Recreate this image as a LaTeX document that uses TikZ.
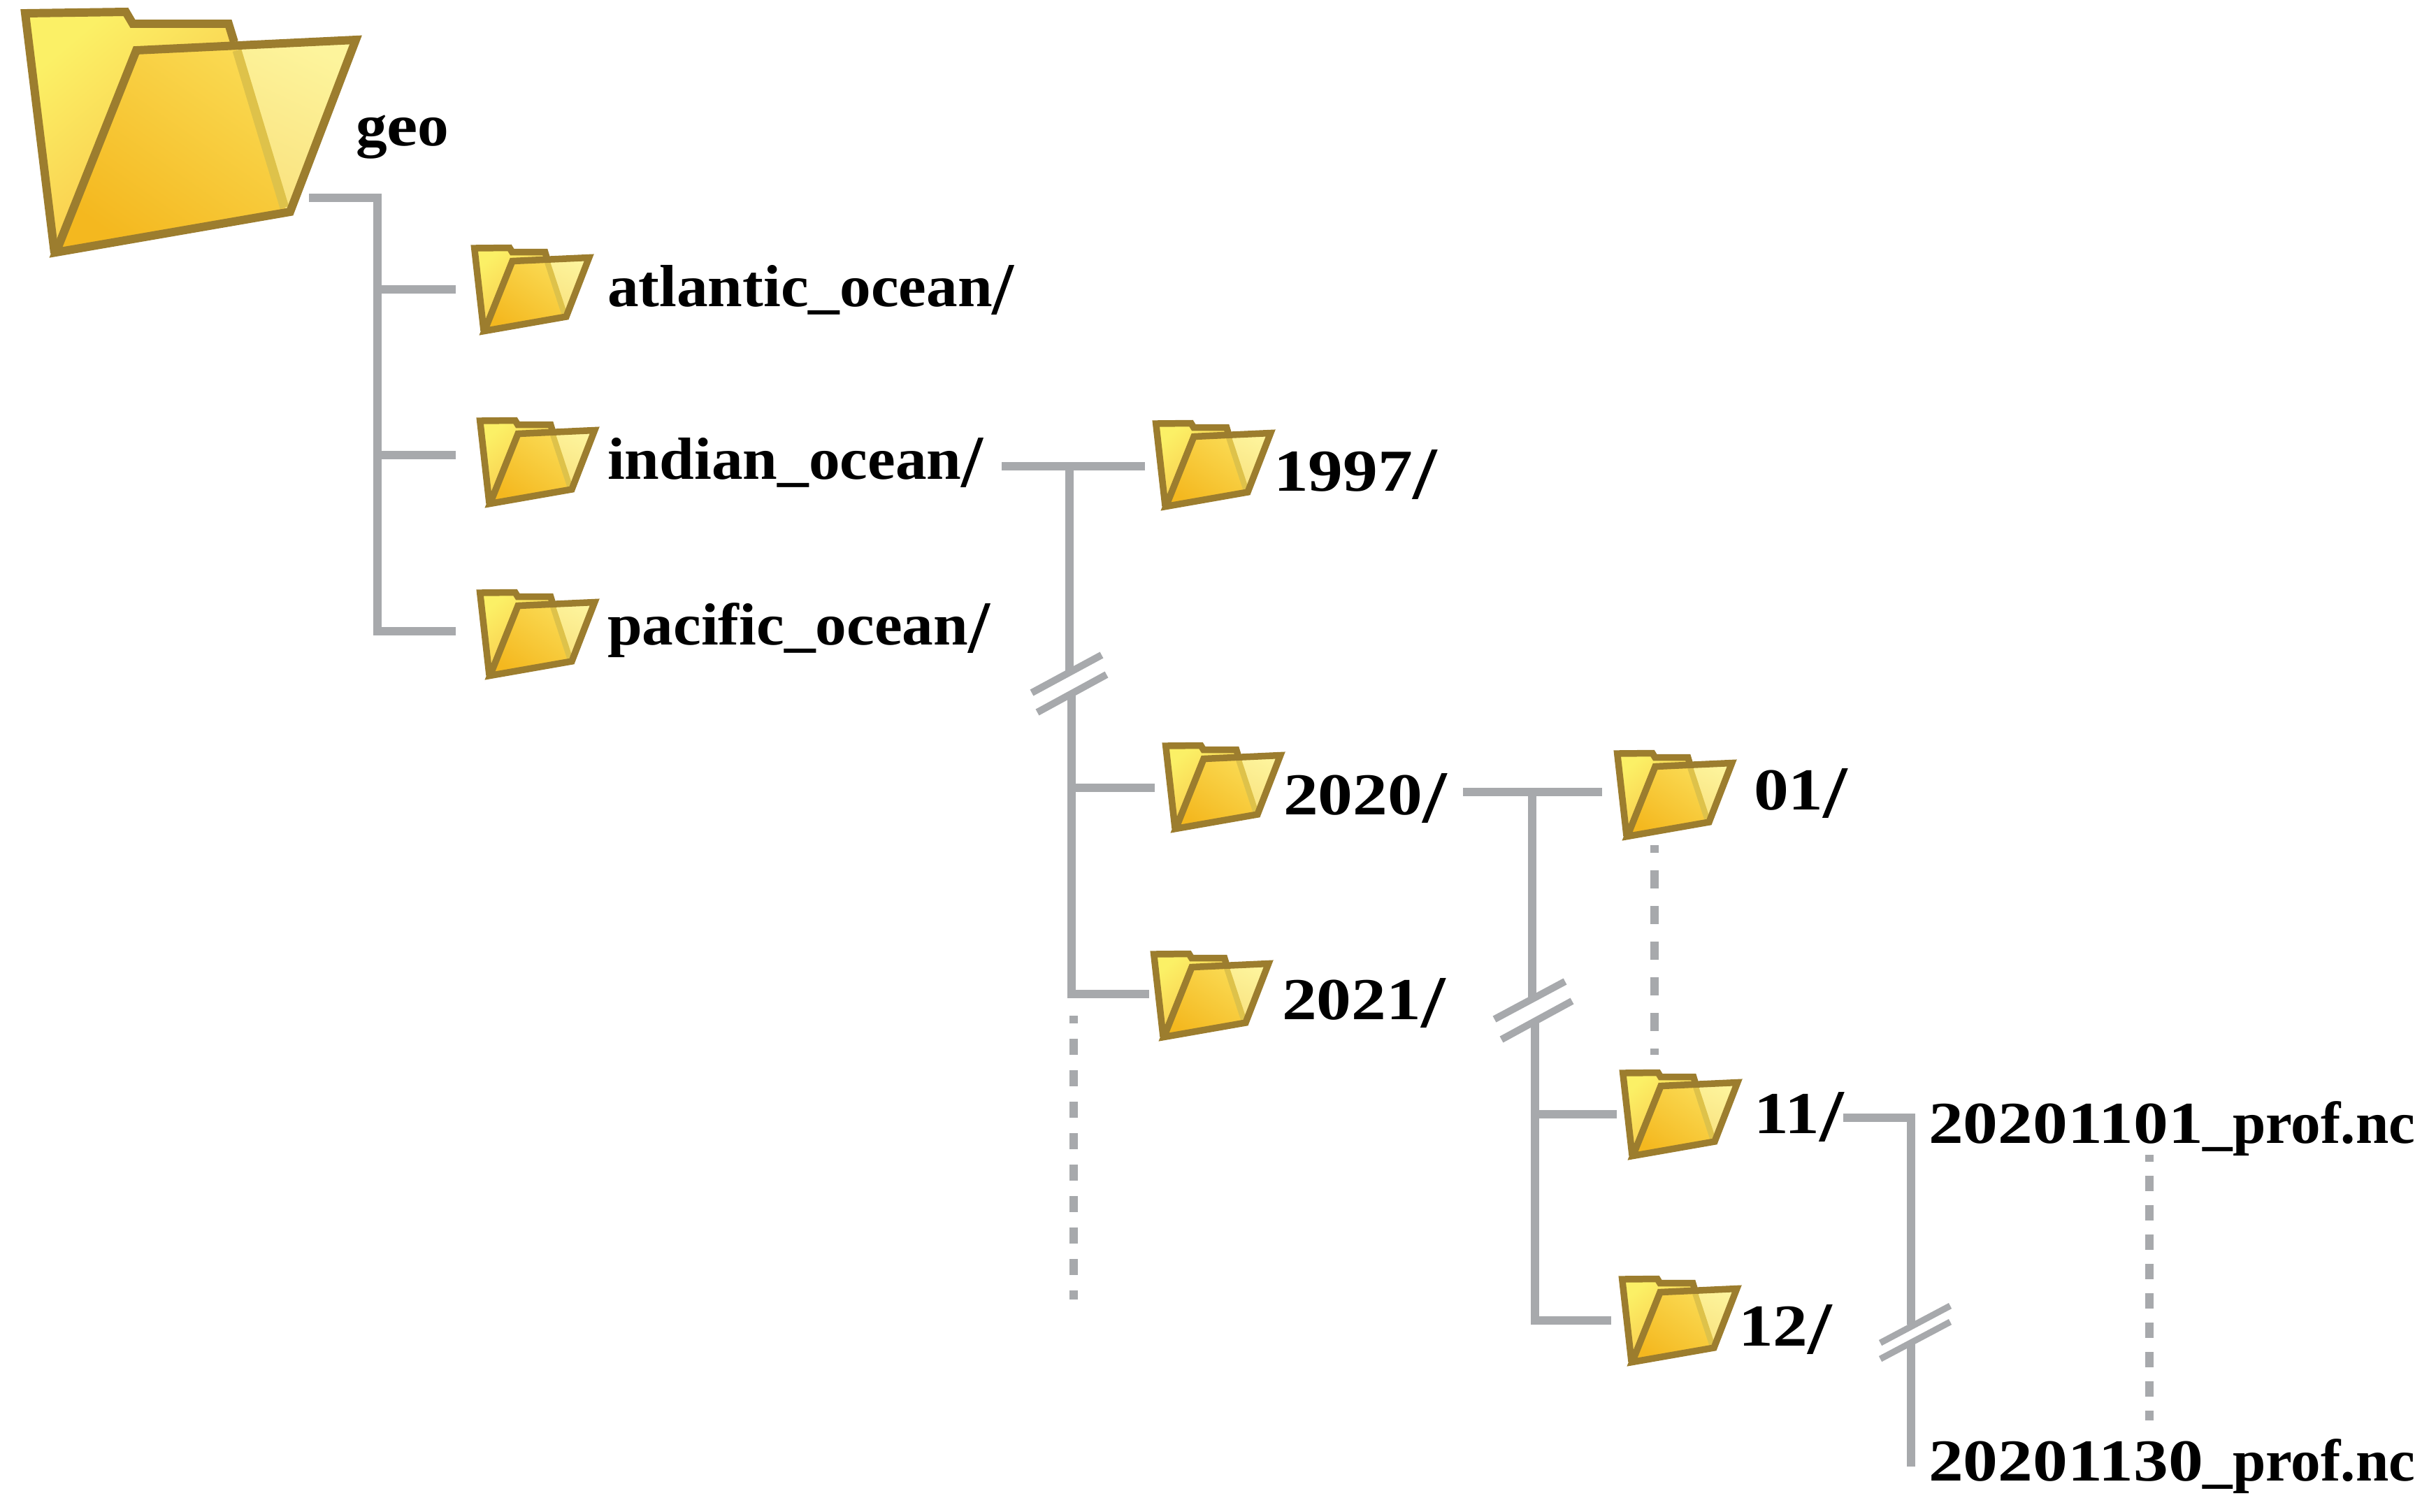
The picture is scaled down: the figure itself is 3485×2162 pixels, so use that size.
\documentclass[tikz,border=0pt]{standalone}
\usepackage{fontspec}
\setmainfont[FakeStretch=1.05]{Liberation Serif}
\newfontfamily\numfont[FakeStretch=1.17]{Liberation Serif}
\newfontfamily\tightfont{Liberation Serif}
\newcommand{\slsh}{\raisebox{-0.14em}{\fontsize{30.2}{30}\selectfont/}}
\definecolor{ln}{HTML}{A7A9AC}
\definecolor{fo}{HTML}{9C7D2E}
\definecolor{stripe}{HTML}{DEC24A}
\definecolor{bA}{HTML}{FBF066}
\definecolor{bB}{HTML}{F9B93F}
\definecolor{fA}{HTML}{F4B81F}
\definecolor{fB}{HTML}{FAD951}
\definecolor{wA}{HTML}{F9E27F}
\definecolor{wB}{HTML}{FDF49C}
\tikzset{
  conn/.style={draw=ln,line width=3.55pt,line join=miter},
  dots/.style={draw=ln,line width=3.55pt,dash pattern=on 0.23cm off 0.22cm,dash phase=0.12cm},
  dotsb/.style={draw=ln,line width=3.55pt,dash pattern=on 0.26cm off 0.25cm,dash phase=0.15cm},
  lbl/.style={anchor=base west,inner sep=0pt,outer sep=0pt,font=\fontsize{24.2}{28}\selectfont\bfseries},
  numlbl/.style={lbl,font=\fontsize{24.2}{28}\selectfont\numfont\bfseries},
  backshade/.style={top color=bA,bottom color=bB,shading angle=40},
  wedgeshade/.style={top color=wB,bottom color=wA,shading angle=-25},
  frontshade/.style={top color=fB,bottom color=fA,shading angle=-35},
  smallfolder/.pic={
    \shade[backshade] (4.7,4) -- (55,3.5) -- (58.7,9.5) -- (105.7,9.5) -- (136,102) -- (20,122) -- (18,122) -- cycle;
    \shade[wedgeshade] (108,20) -- (168.7,17.5) -- (136,102) -- (134,100) -- cycle;
    \shade[frontshade] (59,22.5) -- (108,20) -- (134,100) -- (136,102) -- (20,122) -- cycle;
    \draw[stripe,line width=2.3pt] (108,21) -- (133,97);
    \draw[fo,line width=2.7pt,miter limit=10] (108,17) -- (105.7,9.5) -- (58.7,9.5) -- (55,3.5) -- (4.7,4) -- (18,122);
    \draw[fo,line width=2.7pt,miter limit=10] (59,22.5) -- (168.7,17.5) -- (136,102) -- (19,122.5) -- cycle;
  },
  bigfolder/.pic={
    \shade[backshade] (36,19) -- (180,17) -- (190,34) -- (327,34) -- (415,303) -- (85,357) -- (78,362) -- cycle;
    \shade[wedgeshade] (337,64) -- (509,57) -- (415,303) -- (407,297) -- cycle;
    \shade[frontshade] (195,72) -- (337,64) -- (407,297) -- (415,303) -- (85,357) -- cycle;
    \draw[stripe,line width=3.7pt] (339,72) -- (407,297);
    \draw[fo,line width=3.4pt,miter limit=10] (335,60) -- (327,34) -- (190,34) -- (180,17) -- (36,19) -- (78,362);
    \draw[fo,line width=3.4pt,miter limit=10] (195,72) -- (509,57) -- (415,303) -- (80,361) -- cycle;
  }
}
\begin{document}
\begin{tikzpicture}[x=0.01cm,y=-0.01cm]
\useasboundingbox (0,0) rectangle (3485,2162);
% folders
\pic (geof) at (0,0) {bigfolder};
\pic (fa) at (674,351) {smallfolder};
\pic (fi) at (682,598) {smallfolder};
\pic (fp) at (682,844) {smallfolder};
\pic (f97) at (1649,602) {smallfolder};
\pic (f20) at (1663,1063) {smallfolder};
\pic (f21) at (1646,1361) {smallfolder};
\pic (f01) at (2309,1074) {smallfolder};
\pic (f11) at (2317,1531) {smallfolder};
\pic (f12) at (2316,1826) {smallfolder};
% labels
\node[lbl] (geo) at (509,208) {g{\numfont e}o};
\node[lbl] (atl) at (869,438) {atlantic\_ocean\slsh};
\node[lbl] (ind) at (869,685) {indian\_ocean\slsh};
\node[lbl] (pac) at (869,922) {pacific\_ocean\slsh};
\node[numlbl] (y97) at (1822,702) {1997\slsh};
\node[numlbl] (y20) at (1836,1165) {2020\slsh};
\node[numlbl] (y21) at (1834,1458) {2021\slsh};
\node[numlbl] (m01) at (2509,1158) {01\slsh};
\node[numlbl] (m11) at (2509,1621) {11\slsh};
\node[numlbl] (m12) at (2487,1925) {12\slsh};
\node[numlbl] (d1) at (2759,1635) {20201101{\tightfont\_prof.nc}};
\node[numlbl] (d30) at (2759,2118) {20201130{\tightfont\_prof.nc}};
% geo tree
\coordinate (a0) at (442,283); \coordinate (a1) at (540,283);
\coordinate (a2) at (540,903); \coordinate (a3) at (652,903);
\coordinate (a4) at (540,414); \coordinate (a5) at (652,414);
\coordinate (a6) at (540,651); \coordinate (a7) at (652,651);
\draw[conn] (a0) -- (a1) -- (a2) -- (a3);
\draw[conn] (a4) -- (a5);
\draw[conn] (a6) -- (a7);
% indian tree
\coordinate (b0) at (1433,667); \coordinate (b1) at (1638,667);
\coordinate (b2) at (1530,667); \coordinate (b3) at (1530,960);
\coordinate (b4) at (1533,993); \coordinate (b5) at (1533,1422); \coordinate (b6) at (1644,1422);
\coordinate (b7) at (1533,1127); \coordinate (b8) at (1652,1127);
\coordinate (s1a) at (1476,991); \coordinate (s1b) at (1576,937);
\coordinate (s2a) at (1484,1019); \coordinate (s2b) at (1583,965);
\draw[conn] (b0) -- (b1);
\draw[conn] (b2) -- (b3);
\draw[conn] (b4) -- (b5) -- (b6);
\draw[conn] (b7) -- (b8);
\draw[conn,line width=2.9pt] (s1a) -- (s1b);
\draw[conn,line width=2.9pt] (s2a) -- (s2b);
\coordinate (c0) at (1536,1453); \coordinate (c1) at (1536,1859);
\draw[dots] (c0) -- (c1);
% 2020 tree
\coordinate (e0) at (2093,1133); \coordinate (e1) at (2292,1133);
\coordinate (e2) at (2192,1133); \coordinate (e3) at (2192,1427);
\coordinate (e4) at (2196,1462); \coordinate (e5) at (2196,1889); \coordinate (e6) at (2305,1889);
\coordinate (e7) at (2196,1594); \coordinate (e8) at (2313,1594);
\coordinate (s3a) at (2138,1458); \coordinate (s3b) at (2239,1404);
\coordinate (s4a) at (2148,1487); \coordinate (s4b) at (2249,1432);
\draw[conn] (e0) -- (e1);
\draw[conn] (e2) -- (e3);
\draw[conn] (e4) -- (e5) -- (e6);
\draw[conn] (e7) -- (e8);
\draw[conn,line width=2.9pt] (s3a) -- (s3b);
\draw[conn,line width=2.9pt] (s4a) -- (s4b);
\coordinate (g0) at (2367,1209); \coordinate (g1) at (2367,1509);
\draw[dotsb] (g0) -- (g1);
% 11 tree
\coordinate (h0) at (2637,1599); \coordinate (h1) at (2734,1599);
\coordinate (h2) at (2734,1895); \coordinate (h3) at (2734,1922); \coordinate (h4) at (2734,2098);
\coordinate (s5a) at (2690,1921); \coordinate (s5b) at (2790,1868);
\coordinate (s6a) at (2690,1944); \coordinate (s6b) at (2790,1891);
\draw[conn] (h0) -- (h1) -- (h2);
\draw[conn] (h3) -- (h4);
\draw[conn,line width=2.6pt] (s5a) -- (s5b);
\draw[conn,line width=2.6pt] (s6a) -- (s6b);
\coordinate (k0) at (3075,1652); \coordinate (k1) at (3075,2032);
\draw[dots,dash pattern=on 0.22cm off 0.2cm,dash phase=0.12cm] (k0) -- (k1);
\end{tikzpicture}
\end{document}
